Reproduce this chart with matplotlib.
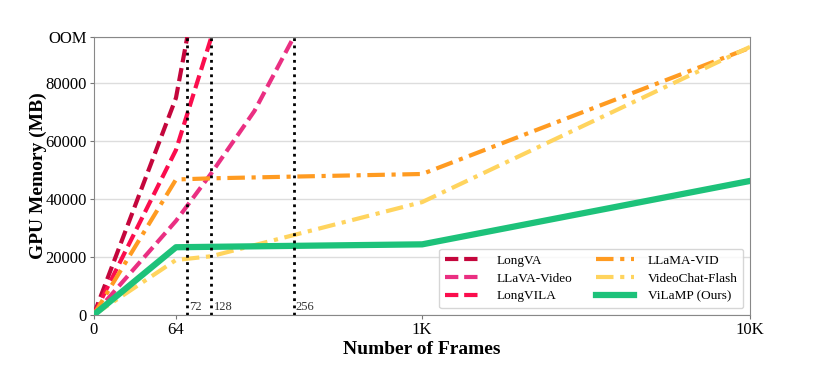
import numpy as np
import matplotlib
matplotlib.use("Agg")
import matplotlib.pyplot as plt

plt.rcParams['font.family'] = ['Liberation Serif', 'DejaVu Serif']

# frame counts -> horizontal position (the axis is stretched by hand in the original)
frame_anchor = [0, 64, 72, 128, 256, 1000, 10000]
pos_anchor = [0, 1, 1.137, 1.43, 2.43, 3.99, 7.97]

OOM = 96000

longva_x = [0, 64, 72]
longva_y = [0, 75000, OOM]
llava_video_x = [0, 64, 128, 195, 256]
llava_video_y = [0, 32500, 49000, 70500, OOM]
longvila_x = [0, 64, 128]
longvila_y = [0, 57000, OOM]
llama_vid_x = [0, 64, 128, 256, 1000, 10000]
llama_vid_y = [0, 46800, 47200, 47800, 48700, 92300]
videochat_x = [0, 64, 128, 1000, 10000]
videochat_y = [0, 19000, 20300, 39000, 92600]
vilamp_x = [0, 64, 1000, 10000]
vilamp_y = [0, 23400, 24400, 46300]

oom_marks = [72, 128, 256]

x_ticks = [0, 64, 1000, 10000]
x_ticklabels = ['0', '64', '1K', '10K']
y_ticks = [0, 20000, 40000, 60000, 80000, OOM]
y_ticklabels = ['0', '20000', '40000', '60000', '80000', 'OOM']


def fwd(x):
    return np.interp(x, frame_anchor, pos_anchor)


def inv(p):
    return np.interp(p, pos_anchor, frame_anchor)


fig = plt.figure(figsize=(8.22, 3.78), dpi=100)
ax = fig.add_axes([0.1139, 0.1667, 0.7985, 0.7353])
ax.set_xscale('function', functions=(fwd, inv))

dash = (3.2, 1.4)
dashdot = (4.2, 1.6, 1.0, 1.6)

ax.plot(longva_x, longva_y, color='#c4063c', lw=3, dashes=dash, label='LongVA', zorder=3)
ax.plot(llava_video_x, llava_video_y, color='#ea2f82', lw=3, dashes=dash, label='LLaVA-Video', zorder=3)
ax.plot(longvila_x, longvila_y, color='#fb0d4d', lw=3, dashes=dash, label='LongVILA', zorder=3)
ax.plot(llama_vid_x, llama_vid_y, color='#ff9b21', lw=3, dashes=dashdot, label='LLaMA-VID', zorder=3)
ax.plot(videochat_x, videochat_y, color='#ffd45e', lw=3, dashes=dashdot, label='VideoChat-Flash', zorder=3)
ax.plot(vilamp_x, vilamp_y, color='#1dc27a', lw=4.5, label='ViLaMP (Ours)', zorder=4)

for m in oom_marks:
    ax.plot([m, m], [0, OOM], color='black', lw=2, linestyle=(0, (1, 1.6)), zorder=5)
    ax.annotate(str(m), xy=(m, 0), xytext=(1.5, 1.5), textcoords='offset points',
                ha='left', va='bottom', fontsize=9, color='#333333')

ax.set_xlim(0, 10000)
ax.set_ylim(0, OOM)
ax.set_xticks(x_ticks)
ax.set_xticklabels(x_ticklabels)
ax.set_yticks(y_ticks)
ax.set_yticklabels(y_ticklabels)
ax.xaxis.set_minor_locator(matplotlib.ticker.NullLocator())
ax.tick_params(labelsize=12, length=3, color='#777777', pad=2)

ax.yaxis.grid(True, color='#dddddd', lw=1)
ax.set_axisbelow(True)
for s in ax.spines.values():
    s.set_color('#888888')

ax.set_xlabel('Number of Frames', fontsize=14, fontweight='bold', labelpad=2)
ax.set_ylabel('GPU Memory (MB)', fontsize=14, fontweight='bold', labelpad=-1)

leg = ax.legend(loc='lower right', ncol=2, fontsize=9.5, handlelength=2.9,
                handletextpad=1.0, columnspacing=1.8, borderpad=0.45,
                labelspacing=0.42, bbox_to_anchor=(1.0, 0.0))
leg.get_frame().set_edgecolor('#cccccc')

fig.savefig('out.png', dpi=100)
